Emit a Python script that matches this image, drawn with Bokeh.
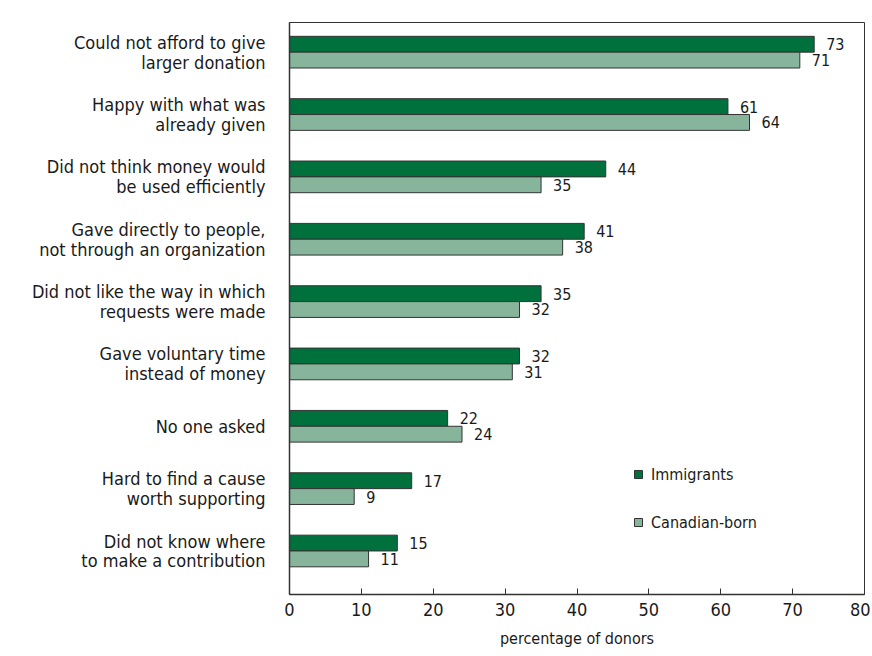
from bokeh.plotting import figure
from bokeh.models import Range1d, FixedTicker, ColumnDataSource, Legend, LegendItem
from bokeh.core.properties import value
from bokeh.embed import file_html
from bokeh.resources import INLINE

categories = [
    "Could not afford to give\nlarger donation",
    "Happy with what was\nalready given",
    "Did not think money would\nbe used efficiently",
    "Gave directly to people,\nnot through an organization",
    "Did not like the way in which\nrequests were made",
    "Gave voluntary time\ninstead of money",
    "No one asked",
    "Hard to find a cause\nworth supporting",
    "Did not know where\nto make a contribution",
]
immigrants = [73, 61, 44, 41, 35, 32, 22, 17, 15]
canadian_born = [71, 64, 35, 38, 32, 31, 24, 9, 11]
x_ticks = [0, 10, 20, 30, 40, 50, 60, 70, 80]

FONT = "'DejaVu Sans Condensed', 'DejaVu Sans', sans-serif"
DARK = "#00703c"
LIGHT = "#86b59c"
EDGE = "#333333"
TXT = "#1a1a1a"

n = len(categories)
ypos = [n - 1 - i for i in range(n)]
off = 0.127
h = 0.254
line_gap = 0.16  # half line spacing in category units

src_i = ColumnDataSource(dict(y=[v + off for v in ypos], x=immigrants, t=[str(v) for v in immigrants]))
src_c = ColumnDataSource(dict(y=[v - off for v in ypos], x=canadian_born, t=[str(v) for v in canadian_born]))

p = figure(width=870, height=650, output_backend="svg", toolbar_location=None,
           x_range=Range1d(0, 80), y_range=Range1d(-0.698, n - 1 + 0.476),
           min_border_left=289, min_border_right=6, min_border_top=22, min_border_bottom=50)

r1 = p.hbar(y="y", right="x", left=0, height=h, source=src_i, fill_color=DARK, line_color=EDGE, line_width=1)
r2 = p.hbar(y="y", right="x", left=0, height=h, source=src_c, fill_color=LIGHT, line_color=EDGE, line_width=1)

for s in (src_i, src_c):
    p.text(x="x", y="y", text="t", source=s, x_offset=12, text_align="left", text_baseline="middle",
           text_font=value(FONT), text_font_size="16px", text_color=TXT)

# category labels: one invisible tick per text line, right aligned by the axis
label_ticks = []
label_map = {}
for yc, cat in zip(ypos, categories):
    lines = cat.split("\n")
    k = len(lines)
    for j, ln in enumerate(lines):
        yy = round(yc + line_gap * (k - 1 - 2 * j), 3)
        label_ticks.append(yy)
        label_map[yy] = ln

p.xgrid.visible = False
p.ygrid.visible = False
p.outline_line_color = EDGE
p.outline_line_width = 1

p.xaxis.ticker = FixedTicker(ticks=x_ticks)
p.xaxis.major_tick_in = 6
p.xaxis.major_tick_out = 0
p.xaxis.minor_tick_line_color = None
p.xaxis.axis_line_color = EDGE
p.xaxis.axis_line_width = 1.5
p.xaxis.major_tick_line_color = EDGE
p.xaxis.major_label_text_font = FONT
p.xaxis.major_label_text_font_size = "18px"
p.xaxis.major_label_text_color = TXT
p.xaxis.major_label_standoff = 8
p.xaxis.axis_label = "percentage of donors"
p.xaxis.axis_label_text_font = FONT
p.xaxis.axis_label_text_font_size = "16px"
p.xaxis.axis_label_text_font_style = "normal"
p.xaxis.axis_label_text_color = TXT
p.xaxis.axis_label_standoff = 10

p.yaxis.ticker = FixedTicker(ticks=label_ticks)
p.yaxis.major_label_overrides = label_map
p.yaxis.major_tick_in = 0
p.yaxis.major_tick_out = 0
p.yaxis.minor_tick_line_color = None
p.yaxis.axis_line_color = EDGE
p.yaxis.axis_line_width = 1.5
p.yaxis.major_label_text_font = FONT
p.yaxis.major_label_text_font_size = "18px"
p.yaxis.major_label_text_color = TXT
p.yaxis.major_label_standoff = 24

legend = Legend(items=[LegendItem(label="Immigrants", renderers=[r1]),
                       LegendItem(label="Canadian-born", renderers=[r2])],
                location=(344, 62), padding=0, margin=0, spacing=28,
                glyph_width=10, glyph_height=10, label_height=20, label_standoff=8,
                border_line_color=None, background_fill_alpha=0,
                label_text_font=FONT, label_text_font_size="16px", label_text_color=TXT)
p.add_layout(legend, "center")

open("out.html", "w").write(file_html(p, INLINE))
